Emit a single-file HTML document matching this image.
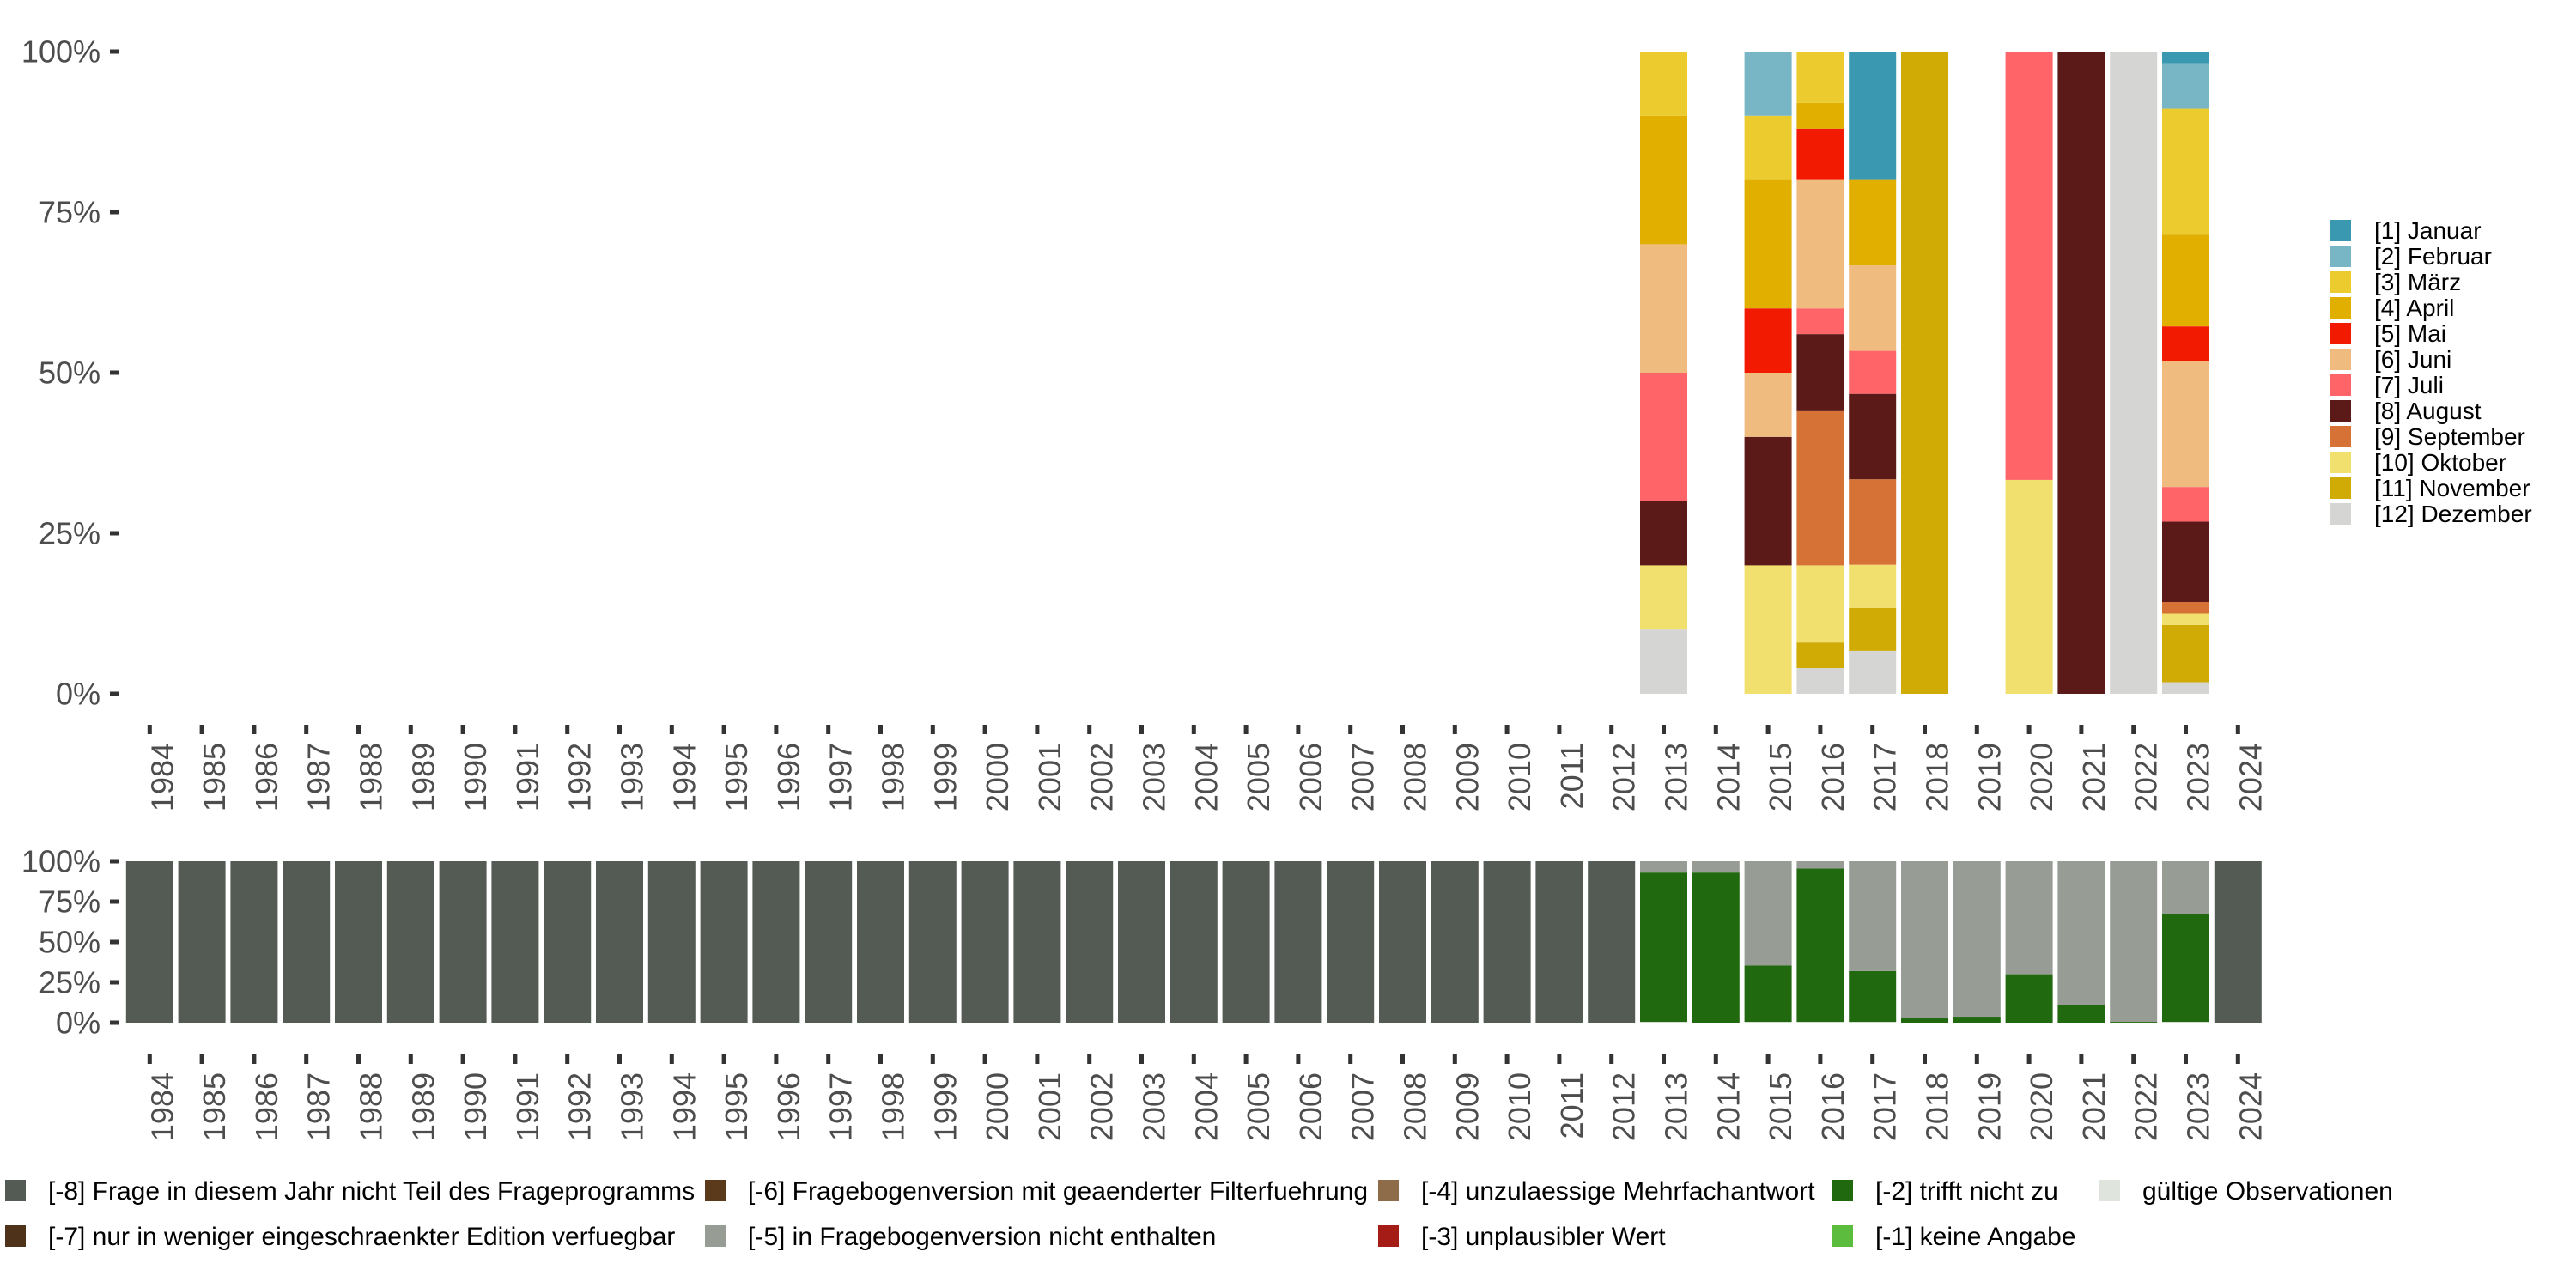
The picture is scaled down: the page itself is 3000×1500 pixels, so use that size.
<!DOCTYPE html>
<html><head><meta charset="utf-8">
<style>
html,body{margin:0;padding:0;background:#fff;}
svg{display:block;font-family:"Liberation Sans","DejaVu Sans",sans-serif;}
</style></head>
<body>
<svg id="chart" width="3000" height="1500" xmlns="http://www.w3.org/2000/svg"></svg>
<script>
const years = [];
for (let y = 1984; y <= 2024; y++) years.push(y);
const monthNames = ["[1] Januar","[2] Februar","[3] März","[4] April","[5] Mai","[6] Juni","[7] Juli","[8] August","[9] September","[10] Oktober","[11] November","[12] Dezember"];
const monthColors = ["#3b98b1","#78b6c5","#ebcb2e","#e1af00","#f21a00","#f0bb7f","#fe6468","#5b1a18","#d67236","#f1df6e","#d0ab05","#d5d5d3"];
// month shares (%) per year, index = month 1..12
const monthYears = [2013, 2015, 2016, 2017, 2018, 2020, 2021, 2022, 2023];
const m2013 = [0,0,10,20,0,20,20,10,0,10,0,10];
const m2015 = [0,10,10,20,10,10,0,20,0,20,0,0];
const m2016 = [0,0,8,4,8,20,4,12,24,12,4,4];
const m2017 = [20,0,0,13.3,0,13.3,6.7,13.3,13.3,6.7,6.7,6.7];
const m2018 = [0,0,0,0,0,0,0,0,0,0,100,0];
const m2020 = [0,0,0,0,0,0,66.7,0,0,33.3,0,0];
const m2021 = [0,0,0,0,0,0,0,100,0,0,0,0];
const m2022 = [0,0,0,0,0,0,0,0,0,0,0,100];
const m2023 = [1.8,7.1,19.6,14.3,5.4,19.6,5.4,12.5,1.8,1.8,8.9,1.8];
const monthData = [m2013,m2015,m2016,m2017,m2018,m2020,m2021,m2022,m2023];

const statusNames = ["gültige Observationen","[-1] keine Angabe","[-2] trifft nicht zu","[-3] unplausibler Wert","[-4] unzulaessige Mehrfachantwort","[-5] in Fragebogenversion nicht enthalten","[-6] Fragebogenversion mit geaenderter Filterfuehrung","[-7] nur in weniger eingeschraenkter Edition verfuegbar","[-8] Frage in diesem Jahr nicht Teil des Frageprogramms"];
const statusColors = ["#dfe4dd","#5bbc3d","#21690e","#a51c17","#8e6c4a","#979c95","#5a3a1b","#4f321a","#535b54"];
// shares (%) for 2013..2023; years outside are -8 = 100
const statusYears = [2013,2014,2015,2016,2017,2018,2019,2020,2021,2022,2023];
const sValid = [0.5,0,0.5,0.5,0.5,0,0,0,0,0,0.5];
const sMinus2 = [92.5,93,35,95,31.5,2.7,3.7,30,10.7,0.5,67];
const sMinus5 = [7,7,64.5,4.5,68,97.3,96.3,70,89.3,99.5,32.5];

const svg = document.getElementById('chart');
const NS = "http://www.w3.org/2000/svg";
function mk(tag, attrs, parent){ const e=document.createElementNS(NS,tag); for(const k in attrs) e.setAttribute(k,attrs[k]); (parent||svg).appendChild(e); return e; }

const x0 = 174.3, step = 60.8, bw = 55;
function xScale(year){ return x0 + (year-1984)*step; }
function yTop(v){ return 808 - v/100*748; }
function yBot(v){ return 1191 - v/100*188; }

function axes(yfn, tickTop, labelTop, name){
  const g = mk('g',{});
  
  
  [0,25,50,75,100].forEach(v=>{
    const y=yfn(v);
    mk('rect',{x:128,y:y-2.5,width:11,height:5,fill:'#333'},g);
    const t=mk('text',{x:117,y:y+12.5,'text-anchor':'end','font-size':36,fill:'#4d4d4d'},g);
    
    
    t.textContent=v+'%';
  });
  years.forEach(yr=>{
    const x=xScale(yr);
    mk('rect',{x:x-2.5,y:tickTop,width:5,height:11,fill:'#333'},g);
    const t=mk('text',{x:0,y:0,'text-anchor':'end','font-size':36,fill:'#4d4d4d',transform:`translate(${x+27},${labelTop}) rotate(-90)`},g);
    
    
    t.textContent=yr;
  });
}
axes(yTop, 844, 865, 'top');
axes(yBot, 1228, 1249, 'bottom');

// top stacked bars (month 1 on top)
monthYears.forEach((yr,i)=>{
  const vals=monthData[i]; let cum=0;
  for(let m=11;m>=0;m--){
    const v=vals[m]; if(v<=0) continue;
    const r=mk('rect',{x:xScale(yr)-bw/2,y:yTop(cum+v),width:bw,height:yTop(cum)-yTop(cum+v),fill:monthColors[m]});
    
    
    cum+=v;
  }
});

// bottom stacked bars
years.forEach(yr=>{
  const idx=statusYears.indexOf(yr);
  let segs;
  if(idx<0) segs=[[8,100]];
  else segs=[[0,sValid[idx]],[2,sMinus2[idx]],[5,sMinus5[idx]]];
  let cum=0;
  segs.forEach(([c,v])=>{
    if(v<=0) return;
    const r=mk('rect',{x:xScale(yr)-bw/2,y:yBot(cum+v),width:bw,height:yBot(cum)-yBot(cum+v),fill:statusColors[c]});
    
    
    cum+=v;
  });
});

// top legend
monthNames.forEach((n,i)=>{
  const y=256+i*30;
  const k=mk('rect',{x:2714,y:y,width:24,height:25,fill:monthColors[i]});
  
  
  const t=mk('text',{x:2765,y:y+22,'font-size':28,fill:'#000'});
  
  
  t.textContent=n;
});

// bottom legend
const legItems=[[8,6,1374],[7,6,1427],[6,821,1374],[5,821,1427],[4,1605,1374],[3,1605,1427],[2,2134,1374],[1,2134,1427],[0,2445,1374]];
legItems.forEach(([c,x,y])=>{
  const k=mk('rect',{x:x,y:y,width:24,height:25,fill:statusColors[c]});
  
  
  const t=mk('text',{x:x+50,y:y+23,'font-size':30,fill:'#000'});
  
  
  t.textContent=statusNames[c];
});
</script>
</body></html>
